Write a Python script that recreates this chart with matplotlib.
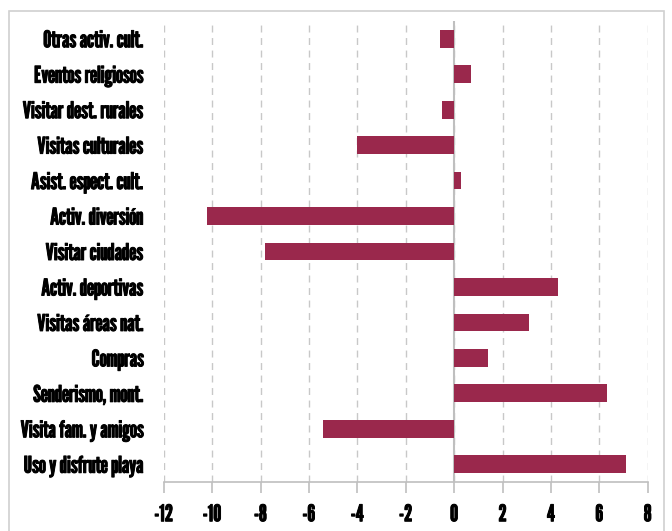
import matplotlib
matplotlib.use("Agg")
import matplotlib.pyplot as plt
from matplotlib.patches import Rectangle
import matplotlib.patheffects as pe

categories = ["Otras activ. cult.", "Eventos religiosos", "Visitar dest. rurales",
              "Visitas culturales", "Asist. espect. cult.", "Activ. diversión",
              "Visitar ciudades", "Activ. deportivas", "Visitas áreas nat.",
              "Compras", "Senderismo, mont.", "Visita fam. y amigos",
              "Uso y disfrute playa"]
values = [-0.6, 0.7, -0.5, -4.0, 0.3, -10.2, -7.8, 4.3, 3.1, 1.4, 6.3, -5.4, 7.1]
xticks = [-12, -10, -8, -6, -4, -2, 0, 2, 4, 6, 8]

plt.rcParams['font.family'] = ['League Gothic', 'DejaVu Sans']

fig = plt.figure(figsize=(6.72, 5.31), dpi=100)
ax = fig.add_axes([163.7/672, 1-482/531, (647.7-163.7)/672, (482-21)/531])

ypos = list(range(len(categories)))
ax.barh(ypos, values, height=0.5, color="#9a284c", zorder=3)
ax.set_ylim(12.5, -0.5)
ax.set_xlim(-12, 8)
ax.set_xticks(xticks)
ax.set_xticklabels([str(t) for t in xticks], fontsize=16.5)
ax.set_yticks(ypos)
ax.set_yticklabels(categories, fontsize=16.5)
ax.tick_params(axis='y', length=0, pad=14)
ax.tick_params(axis='x', length=8, color="#bfbfbf", width=1.2, pad=8)
stroke = [pe.withStroke(linewidth=0.7, foreground='black')]
for lbl in ax.get_xticklabels() + ax.get_yticklabels():
    lbl.set_path_effects(stroke)
    lbl.set_color('black')

ax.grid(axis='x', linestyle=(0, (5, 4)), color="#c8c8c8", linewidth=1, zorder=0)
for s in ['top', 'right', 'left']:
    ax.spines[s].set_visible(False)
ax.spines['bottom'].set_color("#bfbfbf")
ax.spines['bottom'].set_linewidth(1.2)
ax.axvline(0, color="#bfbfbf", linewidth=1.5, zorder=2)

fig.patches.append(Rectangle((9/672, -0.05), (664-9)/672, 1.05-11/531,
                             transform=fig.transFigure, fill=False,
                             edgecolor="#d0d0d0", linewidth=1.2))
fig.savefig("out.png", dpi=100)
